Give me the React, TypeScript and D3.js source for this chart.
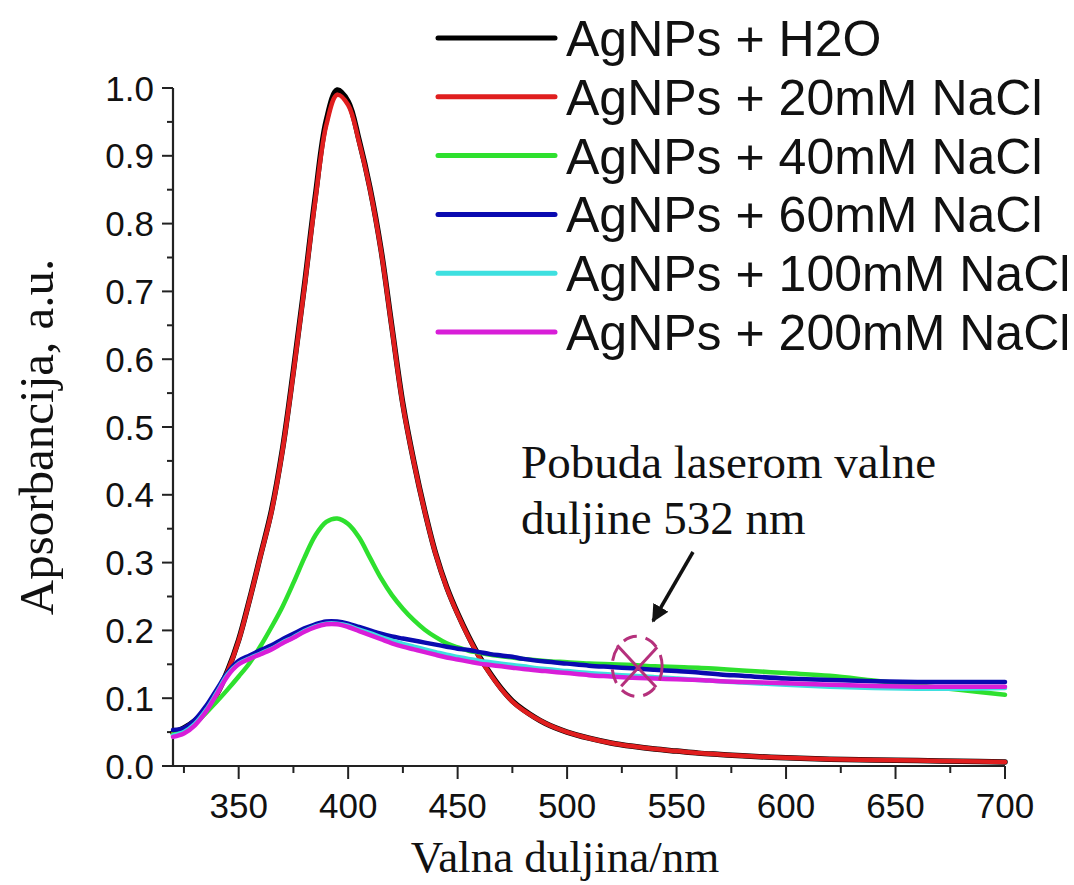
import React from "react";
import * as d3 from "d3";

const wavelengths = [320,325,330,335,340,345,350,355,360,365,370,375,380,385,390,395,400,405,410,415,420,425,430,435,440,445,450,455,460,465,470,475,480,490,500,510,520,530,540,550,560,570,580,600,620,640,660,680,700];

const h2o = [0.049,0.056,0.067,0.083,0.106,0.141,0.186,0.246,0.311,0.377,0.467,0.583,0.708,0.840,0.952,0.997,0.980,0.923,0.852,0.762,0.647,0.534,0.449,0.376,0.313,0.264,0.225,0.191,0.161,0.136,0.114,0.096,0.083,0.063,0.050,0.041,0.034,0.029,0.025,0.022,0.019,0.017,0.015,0.012,0.010,0.009,0.008,0.007,0.006];
const nacl20 = [0.048,0.055,0.066,0.082,0.105,0.140,0.185,0.245,0.310,0.375,0.465,0.580,0.705,0.835,0.945,0.990,0.975,0.920,0.850,0.760,0.645,0.532,0.448,0.375,0.312,0.263,0.224,0.190,0.160,0.135,0.113,0.095,0.082,0.063,0.050,0.041,0.034,0.029,0.025,0.022,0.019,0.017,0.015,0.012,0.010,0.009,0.008,0.007,0.006];
const nacl40 = [0.047,0.052,0.062,0.078,0.095,0.113,0.132,0.152,0.177,0.205,0.235,0.270,0.307,0.340,0.360,0.365,0.357,0.337,0.307,0.277,0.252,0.232,0.215,0.201,0.190,0.181,0.175,0.170,0.167,0.164,0.162,0.160,0.158,0.155,0.153,0.151,0.150,0.149,0.147,0.146,0.145,0.143,0.141,0.137,0.133,0.126,0.119,0.112,0.105];
const nacl60 = [0.053,0.056,0.068,0.088,0.113,0.138,0.155,0.163,0.171,0.178,0.187,0.195,0.203,0.209,0.213,0.213,0.210,0.205,0.200,0.195,0.191,0.188,0.185,0.182,0.179,0.176,0.173,0.171,0.168,0.165,0.163,0.161,0.158,0.154,0.151,0.148,0.146,0.144,0.142,0.140,0.138,0.135,0.133,0.129,0.127,0.125,0.124,0.124,0.124];
const nacl100 = [0.045,0.050,0.062,0.082,0.108,0.135,0.151,0.159,0.166,0.173,0.182,0.190,0.199,0.206,0.210,0.210,0.207,0.201,0.196,0.190,0.185,0.180,0.176,0.172,0.168,0.164,0.161,0.158,0.155,0.153,0.151,0.149,0.147,0.143,0.140,0.137,0.135,0.133,0.131,0.129,0.127,0.125,0.123,0.120,0.117,0.115,0.114,0.114,0.115];
const nacl200 = [0.043,0.048,0.060,0.080,0.106,0.133,0.150,0.158,0.165,0.172,0.181,0.189,0.198,0.205,0.209,0.209,0.205,0.199,0.193,0.187,0.181,0.176,0.172,0.168,0.164,0.160,0.157,0.154,0.151,0.149,0.147,0.145,0.143,0.140,0.137,0.134,0.132,0.130,0.129,0.128,0.127,0.125,0.124,0.122,0.120,0.118,0.117,0.117,0.117];

const seriesNames = ["AgNPs + H2O","AgNPs + 20mM NaCl","AgNPs + 40mM NaCl","AgNPs + 60mM NaCl","AgNPs + 100mM NaCl","AgNPs + 200mM NaCl"];
const seriesValues = [h2o, nacl20, nacl40, nacl60, nacl100, nacl200];
const seriesColors = ["#000000","#e01e1e","#2ee02e","#0a0ab0","#3ee0e0","#d81ed8"];

const xMajorTicks = [350,400,450,500,550,600,650,700];
const xMinorTicks = [325,375,425,475,525,575,625,675];
const yMajorTicks = [0,0.1,0.2,0.3,0.4,0.5,0.6,0.7,0.8,0.9,1.0];
const yMinorTicks = [0.05,0.15,0.25,0.35,0.45,0.55,0.65,0.75,0.85,0.95];

const xTitle = "Valna duljina/nm";
const yTitle = "Apsorbancija, a.u.";
const noteLines = ["Pobuda laserom valne", "duljine 532 nm"];
const laserNm = 532;
const laserValue = 0.147;

export default function App() {
  const W = 1074, H = 885;
  const x = d3.scaleLinear().domain([320, 700]).range([173, 1005]);
  const y = d3.scaleLinear().domain([0, 1]).range([766, 88]);
  const line = d3.line<number>()
    .x((_, i) => x(wavelengths[i]))
    .y((d) => y(d))
    .curve(d3.curveCatmullRom.alpha(0.5));

  const sans = "'Liberation Sans', Arial, sans-serif";
  const serif = "'Liberation Serif', 'Times New Roman', serif";
  const axisColor = "#222";

  const cx = x(laserNm), cy = y(laserValue);

  return (
    <svg width={W} height={H} style={{ position: "absolute", left: 0, top: 0, background: "#fff" }}>
      <defs>
        <marker id="arrowHead" viewBox="0 0 10 10" refX="9" refY="5" markerWidth="5" markerHeight="5" orient="auto">
          <path d="M0,0 L10,5 L0,10 z" fill="#111" />
        </marker>
      </defs>
      <line x1={x(320)} x2={x(700)} y1={y(0)} y2={y(0)} stroke={axisColor} strokeWidth={2.2} />
      <line x1={x(320)} x2={x(320)} y1={y(0)} y2={y(1)} stroke={axisColor} strokeWidth={2.2} />
      {xMajorTicks.map((t) => (
        <g key={"xm" + t}>
          <line x1={x(t)} x2={x(t)} y1={y(0)} y2={y(0) + 13} stroke={axisColor} strokeWidth={2} />
          <text x={x(t)} y={818} textAnchor="middle" fontFamily={sans} fontSize={35} fill="#111">{t}</text>
        </g>
      ))}
      {xMinorTicks.map((t) => (
        <line key={"xn" + t} x1={x(t)} x2={x(t)} y1={y(0)} y2={y(0) + 7} stroke={axisColor} strokeWidth={2} />
      ))}
      {yMajorTicks.map((t) => (
        <g key={"ym" + t}>
          <line x1={x(320) - 11} x2={x(320)} y1={y(t)} y2={y(t)} stroke={axisColor} strokeWidth={2} />
          <text x={154} y={y(t) + 12.5} textAnchor="end" fontFamily={sans} fontSize={35} fill="#111">{t.toFixed(1)}</text>
        </g>
      ))}
      {yMinorTicks.map((t) => (
        <line key={"yn" + t} x1={x(320) - 6} x2={x(320)} y1={y(t)} y2={y(t)} stroke={axisColor} strokeWidth={2} />
      ))}
      {seriesValues.map((vals, i) => (
        <path key={"s" + i} d={line(vals) || ""} fill="none" stroke={seriesColors[i]} strokeWidth={i === 0 ? 5.5 : 4.5} strokeLinejoin="round" strokeLinecap="round" />
      ))}
      {seriesNames.map((name, i) => {
        const ly = 38 + i * 58.8;
        return (
          <g key={"lg" + i}>
            <line x1={438} x2={555} y1={ly} y2={ly} stroke={seriesColors[i]} strokeWidth={5} strokeLinecap="round" />
            <text x={566} y={ly + 18} fontFamily={sans} fontSize={50} fill="#111">{name}</text>
          </g>
        );
      })}
      {noteLines.map((t, i) => (
        <text key={"n" + i} x={521} y={478 + i * 56} fontFamily={serif} fontSize={47} fill="#111">{t}</text>
      ))}
      <line x1={693} y1={552} x2={653} y2={621} stroke="#111" strokeWidth={3.5} markerEnd="url(#arrowHead)" />
      <ellipse cx={cx} cy={cy} rx={25} ry={30} fill="none" stroke="#b5307c" strokeWidth={3} strokeDasharray="14 9" />
      <line x1={cx - 20} y1={cy - 21} x2={cx + 19} y2={cy + 21} stroke="#b5307c" strokeWidth={3} />
      <line x1={cx + 20} y1={cy - 19} x2={cx - 16} y2={cy + 20} stroke="#b5307c" strokeWidth={3} />
      <text x={565} y={872} textAnchor="middle" fontFamily={serif} fontSize={45} fill="#111">{xTitle}</text>
      <text transform={`translate(53, 437) rotate(-90)`} textAnchor="middle" fontFamily={serif} fontSize={49} fill="#111">{yTitle}</text>
    </svg>
  );
}
